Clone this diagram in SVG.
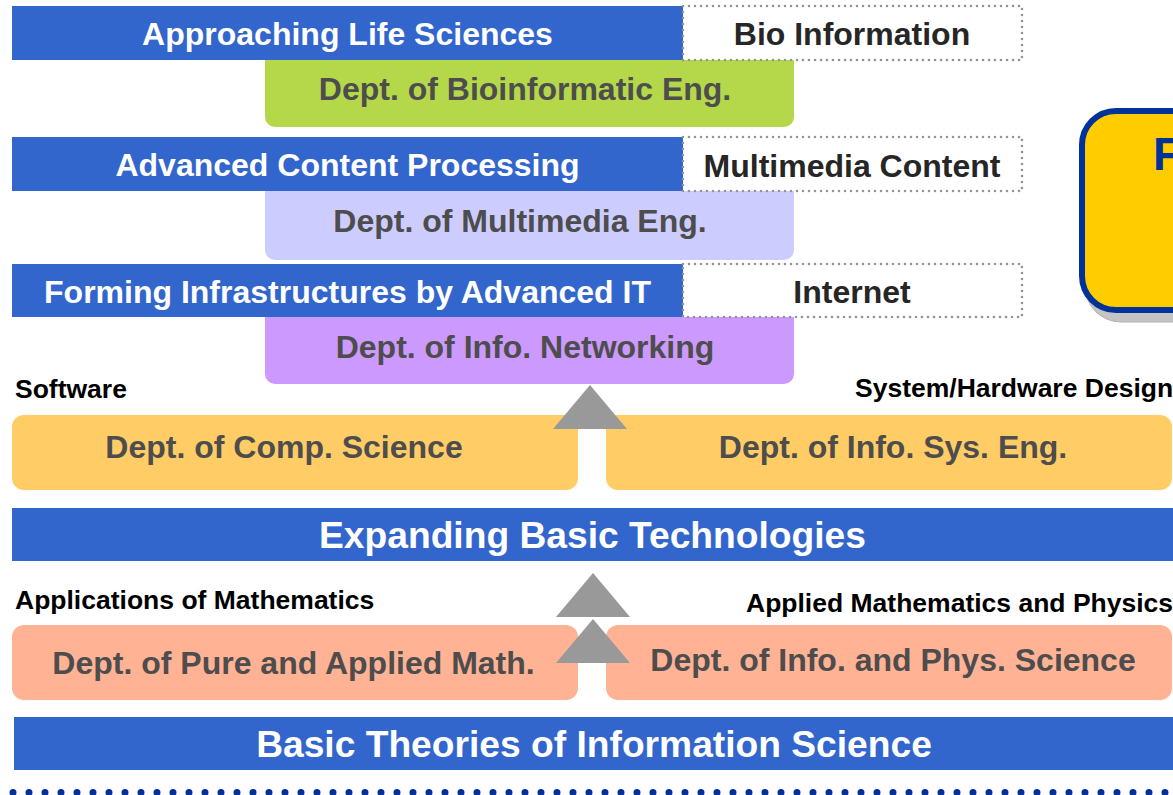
<svg xmlns="http://www.w3.org/2000/svg" width="1173" height="795" viewBox="0 0 1173 795">
  <style>
    text { font-family: "Liberation Sans", Arial, sans-serif; font-weight: bold; }
    .bar { fill: #3366cc; }
    .bar-t { fill: #ffffff; font-size: 32px; text-anchor: middle; }
    .big-t { fill: #ffffff; font-size: 37.2px; text-anchor: middle; }
    .field { fill: #ffffff; stroke: #939393; stroke-width: 2.6; stroke-linecap: round; stroke-dasharray: 0 6; }
    .field-t { fill: #262626; font-size: 32px; text-anchor: middle; }
    .dept-t { fill: #4d4d4d; font-size: 32px; text-anchor: middle; }
    .lbl { fill: #000000; font-size: 26.5px; }
    .arrow { fill: #999999; }
  </style>

  <!-- Life sciences layer -->
  <g id="bioinformatic-dept">
    <path d="M265 60 H794 V117 A10 10 0 0 1 784 127 H275 A10 10 0 0 1 265 117 Z" fill="#b5d84b"/>
    <text class="dept-t" x="525" y="100">Dept. of Bioinformatic Eng.</text>
  </g>
  <g id="life-sciences">
    <rect class="bar" x="12" y="6" width="671" height="54"/>
    <text class="bar-t" x="347.5" y="45">Approaching Life Sciences</text>
  </g>
  <g id="bio-information">
    <rect class="field" x="683" y="6" width="339" height="54"/>
    <text class="field-t" x="852" y="45">Bio Information</text>
  </g>

  <!-- Content processing layer -->
  <g id="multimedia-dept">
    <path d="M265 191 H794 V250 A10 10 0 0 1 784 260 H275 A10 10 0 0 1 265 250 Z" fill="#ccccff"/>
    <text class="dept-t" x="520" y="232">Dept. of Multimedia Eng.</text>
  </g>
  <g id="content-processing">
    <rect class="bar" x="12" y="137" width="671" height="54"/>
    <text class="bar-t" x="347.5" y="176">Advanced Content Processing</text>
  </g>
  <g id="multimedia-content">
    <rect class="field" x="683" y="137" width="339" height="54"/>
    <text class="field-t" x="852" y="177">Multimedia Content</text>
  </g>

  <!-- Infrastructure layer -->
  <g id="networking-dept">
    <path d="M265 317 H794 V374 A10 10 0 0 1 784 384 H275 A10 10 0 0 1 265 374 Z" fill="#cc99ff"/>
    <text class="dept-t" x="525" y="358">Dept. of Info. Networking</text>
  </g>
  <g id="infrastructures">
    <rect class="bar" x="12" y="264" width="671" height="53"/>
    <text class="bar-t" x="347.5" y="303">Forming Infrastructures by Advanced IT</text>
  </g>
  <g id="internet">
    <rect class="field" x="683" y="264" width="339" height="53"/>
    <text class="field-t" x="852" y="303">Internet</text>
  </g>

  <!-- Faculty box at the right edge -->
  <g id="faculty">
    <rect x="1085" y="116" width="200" height="206" rx="36" fill="#c4c4c4" stroke="#b0b0b0" stroke-width="1"/>
    <rect x="1082" y="111" width="200" height="199" rx="34" fill="#ffcc00" stroke="#003399" stroke-width="6"/>
    <text x="1153" y="170" fill="#003399" font-size="46px">F</text>
  </g>

  <!-- Basic technology departments -->
  <g id="software">
    <text class="lbl" x="15" y="398">Software</text>
  </g>
  <g id="hardware-design">
    <text class="lbl" x="855" y="397">System/Hardware Design</text>
  </g>
  <g id="comp-science-dept">
    <rect x="12" y="415" width="566" height="75" rx="12" fill="#ffcc66"/>
    <text class="dept-t" x="284" y="458">Dept. of Comp. Science</text>
  </g>
  <g id="info-sys-dept">
    <rect x="606" y="415" width="566" height="75" rx="12" fill="#ffcc66"/>
    <text class="dept-t" x="893" y="458">Dept. of Info. Sys. Eng.</text>
  </g>
  <g id="basic-technologies">
    <rect class="bar" x="12" y="508" width="1161" height="53"/>
    <text class="big-t" x="592.5" y="548">Expanding Basic Technologies</text>
  </g>

  <!-- Mathematics / physics departments -->
  <g id="applications-math">
    <text class="lbl" x="15" y="609">Applications of Mathematics</text>
  </g>
  <g id="applied-math-physics">
    <text class="lbl" x="746" y="612">Applied Mathematics and Physics</text>
  </g>
  <g id="pure-applied-math-dept">
    <rect x="12" y="625" width="566" height="75" rx="12" fill="#ffb294"/>
    <text class="dept-t" x="293.5" y="674">Dept. of Pure and Applied Math.</text>
  </g>
  <g id="info-phys-dept">
    <rect x="606" y="625" width="566" height="75" rx="12" fill="#ffb294"/>
    <text class="dept-t" x="893" y="671">Dept. of Info. and Phys. Science</text>
  </g>
  <g id="basic-theories">
    <rect class="bar" x="14" y="717" width="1159" height="53"/>
    <text class="big-t" x="594" y="757">Basic Theories of Information Science</text>
  </g>

  <!-- Upward arrows between layers -->
  <g id="connectors">
    <polygon class="arrow" points="590,385 627,429 553,429"/>
    <polygon class="arrow" points="593,573 630,617 556,617"/>
    <polygon class="arrow" points="593,619 630,663 556,663"/>
  </g>

  <!-- Dotted rule along the bottom -->
  <line x1="13" y1="792.5" x2="1173" y2="792.5" stroke="#003399" stroke-width="7" stroke-linecap="round" stroke-dasharray="0 16"/>
</svg>
